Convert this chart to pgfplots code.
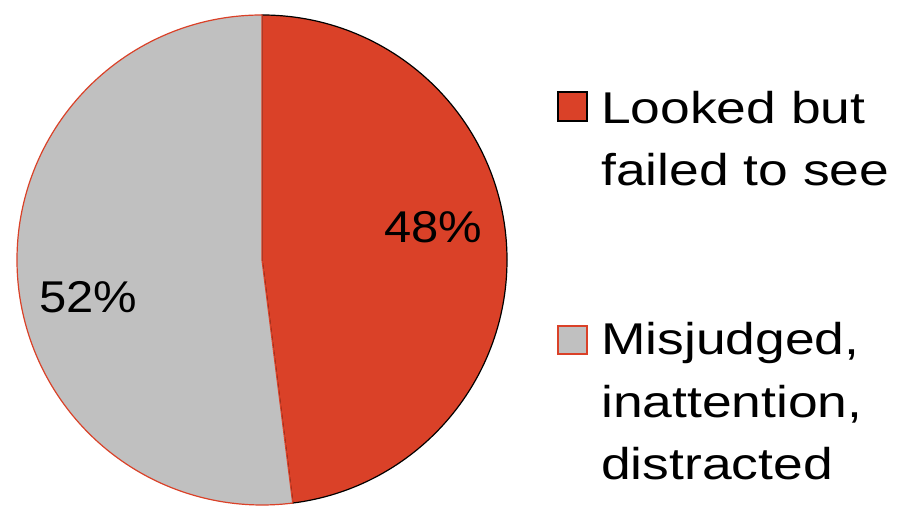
\documentclass[border=0pt]{standalone}
\usepackage{pgfplots}
\usepackage{pgfplotstable}
\pgfplotsset{compat=1.18}
\usepackage{fontspec}
\setmainfont{Liberation Sans}
\newfontfamily\legfont[FakeStretch=1.2]{Liberation Sans}
\newfontfamily\labfont[FakeStretch=1.1]{Liberation Sans}
\definecolor{pieRed}{RGB}{218,65,40}
\definecolor{pieGray}{RGB}{192,192,192}
\pgfplotstableread[col sep=comma]{
label,value
Looked but failed to see,48
Misjudged inattention distracted,52
}\piedata
\begin{document}
\begin{tikzpicture}
\pgfplotstablegetelem{0}{value}\of\piedata\let\vA\pgfplotsretval
\pgfplotstablegetelem{1}{value}\of\piedata\let\vB\pgfplotsretval
\pgfmathsetmacro{\angA}{90-\vA/(\vA+\vB)*360}
\pgfmathsetmacro{\angB}{\angA+360}
\begin{axis}[
  x=1bp, y=1bp, scale only axis,
  xmin=0, xmax=905, ymin=0, ymax=511,
  hide axis, clip=false,
]
\path (axis cs:0,0) rectangle (axis cs:905,511);
% red slice (first value), clockwise from top
\filldraw[fill=pieRed, draw=black, line width=1.2bp]
  (axis cs:262,251) -- (axis cs:262,496) arc[start angle=90, end angle=\angA, radius=245bp] -- cycle;
% gray slice
\filldraw[fill=pieGray, draw=pieRed, line width=1.2bp]
  (axis cs:262,251) -- (axis cs:262,496) arc[start angle=90, end angle=\angB, radius=245bp] -- cycle;
% slice labels
\node[anchor=base, inner sep=0pt, font=\labfont\fontsize{44.5bp}{62bp}\selectfont] at (axis cs:433,268) {\vA\%};
\node[anchor=base, inner sep=0pt, font=\labfont\fontsize{44.5bp}{62bp}\selectfont] at (axis cs:88.5,198) {\vB\%};
% legend
\filldraw[fill=pieRed, draw=black, line width=1.2bp] (axis cs:558,390) rectangle (axis cs:587,419);
\filldraw[fill=pieGray, draw=pieRed, line width=1.2bp] (axis cs:558,157) rectangle (axis cs:587,185);
\begin{scope}[every node/.style={anchor=base west, inner sep=0pt, font=\legfont\fontsize{44.5bp}{62bp}\selectfont}]
\node at (axis cs:601,387) {Looked but};
\node at (axis cs:601,325) {failed to see};
\node at (axis cs:601,156) {Misjudged,};
\node at (axis cs:601,93) {inattention,};
\node at (axis cs:601,31) {distracted};
\end{scope}
\end{axis}
\end{tikzpicture}
\end{document}
